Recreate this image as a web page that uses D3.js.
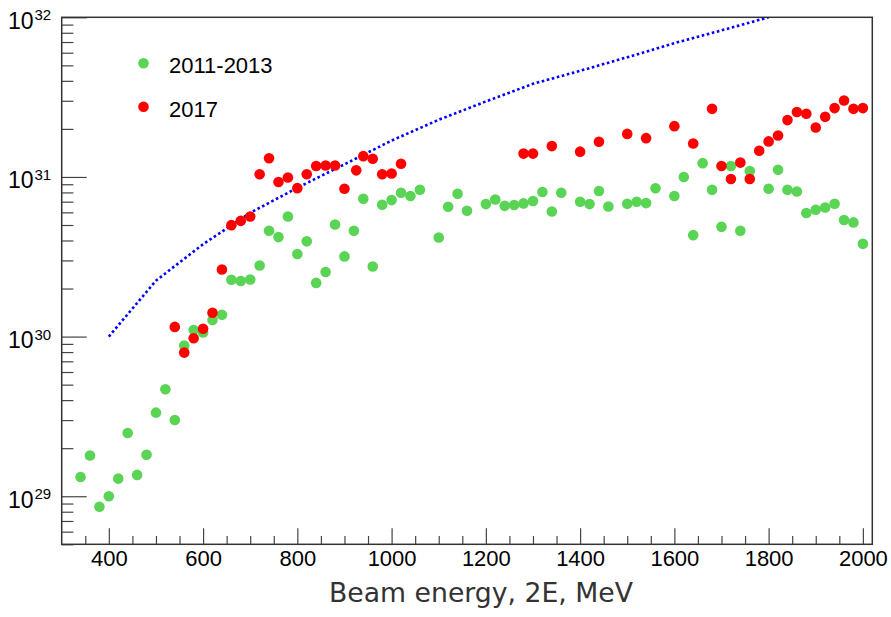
<!DOCTYPE html>
<html>
<head>
<meta charset="utf-8">
<script src="https://cdn.jsdelivr.net/npm/d3@7"></script>
<style>
  html, body { margin: 0; padding: 0; background: #fff; }
  svg { display: block; }
</style>
</head>
<body>
<div id="chart"></div>
<script>
// ---- data ----
const energy2011 = [340,360,380,400,420,440,460,480,500,520,540,560,580,600,620,640,660,680,700,720,740,760,780,800,820,840,860,880,900,920,940,960,980,1000,1020,1040,1060,1100,1120,1140,1160,1200,1220,1240,1260,1280,1300,1320,1340,1360,1400,1420,1440,1460,1500,1520,1540,1560,1600,1620,1640,1660,1680,1700,1720,1740,1760,1800,1820,1840,1860,1880,1900,1920,1940,1960,1980,2000];
const lumi2011 = [1.32e29,1.80e29,8.6e28,1.0e29,1.29e29,2.49e29,1.36e29,1.82e29,3.34e29,4.68e29,3.0e29,8.8e29,1.10e30,1.06e30,1.27e30,1.37e30,2.27e30,2.23e30,2.28e30,2.79e30,4.6e30,4.2e30,5.65e30,3.29e30,3.95e30,2.17e30,2.54e30,5.04e30,3.18e30,4.6e30,7.3e30,2.75e30,6.7e30,7.16e30,7.96e30,7.59e30,8.32e30,4.18e30,6.5e30,7.85e30,6.14e30,6.76e30,7.22e30,6.59e30,6.67e30,6.83e30,7.07e30,8.04e30,6.08e30,7.96e30,7.0e30,6.76e30,8.17e30,6.53e30,6.79e30,7.0e30,6.86e30,8.5e30,7.59e30,1.0e31,4.32e30,1.22e31,8.32e30,4.87e30,1.17e31,4.6e30,1.09e31,8.43e30,1.11e31,8.32e30,8.11e30,5.94e30,6.23e30,6.44e30,6.79e30,5.37e30,5.19e30,3.81e30];

const energy2017 = [540,560,580,600,620,640,660,680,700,720,740,760,780,800,820,840,860,880,900,925,940,960,980,1000,1020,1280,1300,1340,1400,1440,1500,1540,1600,1640,1680,1700,1720,1740,1760,1780,1800,1820,1840,1860,1880,1900,1920,1940,1960,1980,2000];
const lumi2017 = [1.15e30,7.94e29,9.77e29,1.12e30,1.41e30,2.63e30,4.99e30,5.31e30,5.65e30,1.04e31,1.31e31,9.29e30,9.93e30,8.51e30,1.04e31,1.17e31,1.18e31,1.18e31,8.43e30,1.10e31,1.35e31,1.30e31,1.04e31,1.05e31,1.21e31,1.40e31,1.40e31,1.56e31,1.44e31,1.66e31,1.86e31,1.75e31,2.08e31,1.62e31,2.67e31,1.17e31,9.7e30,1.23e31,9.7e30,1.46e31,1.67e31,1.82e31,2.27e31,2.55e31,2.49e31,2.04e31,2.38e31,2.70e31,3.01e31,2.67e31,2.70e31];

const energyLimit = [400,500,600,700,800,900,1000,1100,1200,1300,1400,1500,1600,1700,1800];
const lumiLimit = [1.0e30,2.24e30,3.79e30,5.96e30,8.55e30,1.2e31,1.69e31,2.28e31,2.97e31,3.83e31,4.62e31,5.62e31,6.89e31,8.28e31,1.0e32];

const xTickValues = [400,600,800,1000,1200,1400,1600,1800,2000];
const yDecades = [1e29,1e30,1e31,1e32];
const yExponents = ["29","30","31","32"];
const legendLabels = ["2011-2013","2017"];
const xTitle = "Beam energy, 2E, MeV";

// ---- layout ----
const W = 891, H = 617;
const L = 61.7, R = 872.3, T = 17.3, B = 544.3;

const svg = d3.select("#chart").append("svg").attr("width", W).attr("height", H);
svg.append("rect").attr("width", W).attr("height", H).attr("fill", "#fff");

const x = d3.scaleLinear().domain([300, 2020]).range([L, R]);
const y = d3.scaleLog().domain([5e28, 1e32]).range([B, T]);

const green = "#59d454", red = "#ff0000";
const axisCol = "#444";
const font = "Liberation Sans, Arial, sans-serif";

svg.append("defs").append("clipPath").attr("id","clip")
  .append("rect").attr("x", L).attr("y", T).attr("width", R - L).attr("height", B - T);

// x axis: minor + major ticks
const xMinor = d3.range(350, 2020, 50).filter(v => !xTickValues.includes(v));
const gx = svg.append("g").attr("transform", `translate(0,${B})`);
gx.call(d3.axisBottom(x).tickValues(xMinor).tickSize(-8.3).tickFormat(""));
gx.select(".domain").remove();
const gx2 = svg.append("g").attr("transform", `translate(0,${B})`);
gx2.call(d3.axisBottom(x).tickValues(xTickValues).tickSize(-16).tickPadding(0).tickFormat(d3.format("d")));
gx2.select(".domain").remove();
gx2.selectAll("text").attr("y", 22).attr("dy", null)
  .attr("font-family", font).attr("font-size", 22).attr("fill", "#000");

// y axis: minor + major ticks
const yMinor = [];
[28,29,30,31].forEach(e => { for (let m = 2; m <= 9; m++) { const v = m * Math.pow(10, e); if (v >= 5e28 && v < 1e32) yMinor.push(v); } });
const gy = svg.append("g").attr("transform", `translate(${L},0)`);
gy.call(d3.axisLeft(y).tickValues(yMinor).tickSize(-11.7).tickFormat(""));
gy.select(".domain").remove();
const gy2 = svg.append("g").attr("transform", `translate(${L},0)`);
gy2.call(d3.axisLeft(y).tickValues(yDecades).tickSize(-25).tickFormat(""));
gy2.select(".domain").remove();
svg.selectAll(".tick line").attr("stroke", axisCol).attr("stroke-width", 1.2);

// y labels with superscripts
yDecades.forEach((v, i) => {
  const yy = y(v);
  svg.append("text").attr("x", 33.5).attr("y", yy + 11.5).attr("text-anchor", "end")
    .attr("font-family", font).attr("font-size", 23).attr("fill", "#000").text("10");
  svg.append("text").attr("x", 34.5).attr("y", yy + 3).attr("text-anchor", "start")
    .attr("font-family", font).attr("font-size", 15).attr("fill", "#000").text(yExponents[i]);
});

// frame
svg.append("rect").attr("x", L).attr("y", T).attr("width", R - L).attr("height", B - T)
  .attr("fill", "none").attr("stroke", "#333").attr("stroke-width", 1.5);

const plot = svg.append("g").attr("clip-path", "url(#clip)");

// limit curve (blue dotted)
const line = d3.line().x((d, i) => x(energyLimit[i])).y((d, i) => y(lumiLimit[i]));
plot.append("path").datum(lumiLimit).attr("d", line)
  .attr("fill", "none").attr("stroke", "#0000ff").attr("stroke-width", 2.6).attr("stroke-dasharray", "2.6,2.6");

// points
const r = 5.3;
plot.append("g").selectAll("circle").data(lumi2011).join("circle")
  .attr("cx", (d, i) => x(energy2011[i])).attr("cy", d => y(d)).attr("r", r).attr("fill", green);
plot.append("g").selectAll("circle").data(lumi2017).join("circle")
  .attr("cx", (d, i) => x(energy2017[i])).attr("cy", d => y(d)).attr("r", r).attr("fill", red);

// legend
const legColors = [green, red];
const legY = [63.3, 106.7];
legendLabels.forEach((lab, i) => {
  svg.append("circle").attr("cx", 143.5).attr("cy", legY[i]).attr("r", r).attr("fill", legColors[i]);
  svg.append("text").attr("x", 169).attr("y", legY[i] + 10)
    .attr("font-family", font).attr("font-size", 22).attr("fill", "#000").text(lab);
});

// x title
svg.append("text").attr("x", 481).attr("y", 601.7).attr("text-anchor", "middle")
  .attr("font-family", "DejaVu Sans Condensed, DejaVu Sans, sans-serif").attr("font-size", 27).attr("fill", "#333")
  .attr("textLength", 304).attr("lengthAdjust", "spacingAndGlyphs").text(xTitle);
</script>
</body>
</html>
